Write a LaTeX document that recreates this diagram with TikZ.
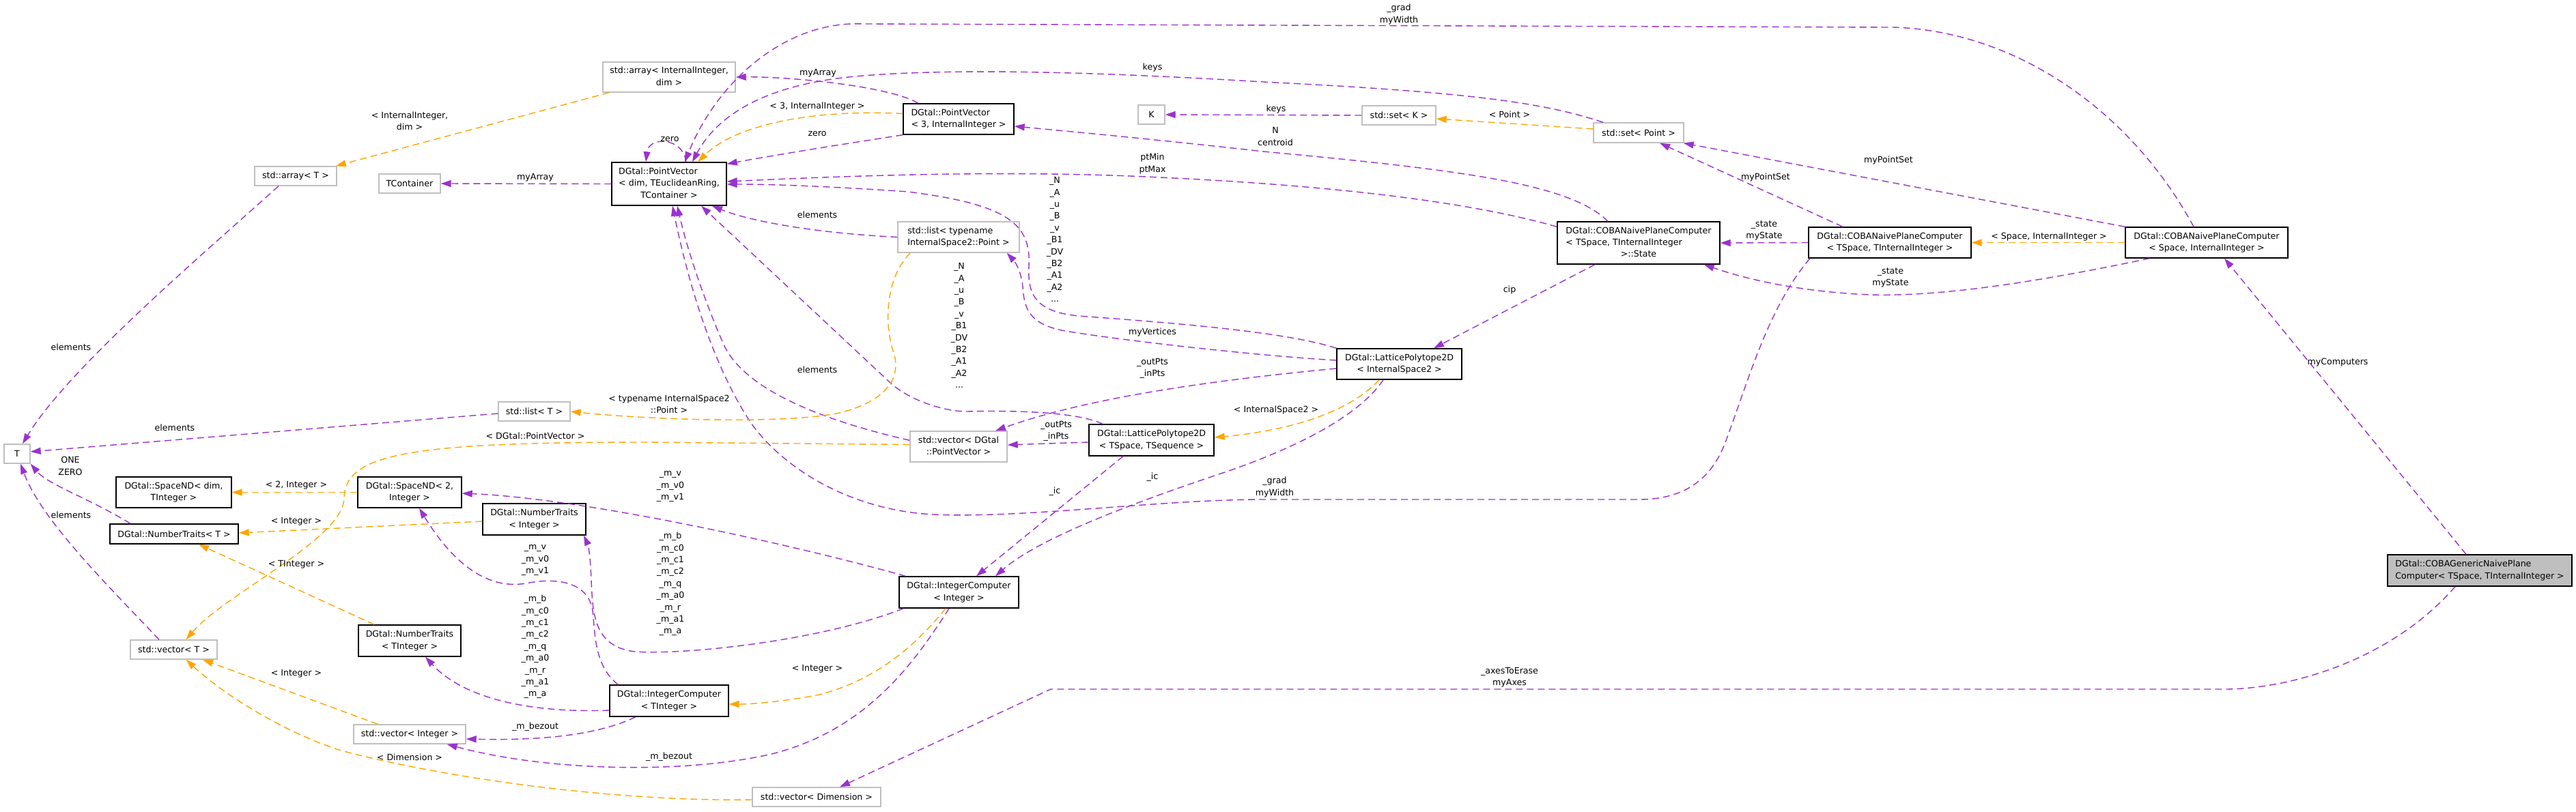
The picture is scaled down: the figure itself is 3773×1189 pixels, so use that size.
\documentclass[tikz,border=0pt]{standalone}
\usepackage{fontspec}
\setmainfont{DejaVu Sans}
\usetikzlibrary{arrows.meta}
\definecolor{edgepu}{HTML}{9A32CD}
\definecolor{edgeor}{HTML}{FFA500}
\definecolor{boxgray}{HTML}{BFBFBF}
\newcommand{\boxlc}[2]{\begin{tabular}{@{}l@{}}#1\\\multicolumn{1}{@{}c@{}}{#2}\end{tabular}}
\newcommand{\boxll}[1]{\begin{tabular}{@{}l@{}}#1\end{tabular}}
\tikzset{
  fnt/.style={font=\fontsize{12.6}{17.4}\selectfont},
  sz/.style 2 args={minimum width=#1pt, minimum height=#2pt},
  cls/.style={fnt, draw=black, line width=1.4pt, rectangle, inner sep=0pt, align=center},
  ext/.style={fnt, draw=boxgray, line width=1.4pt, rectangle, inner sep=0pt, align=center},
  rootbox/.style={cls, fill=boxgray},
  usage/.style={draw=edgepu, line width=1.4pt, dash pattern=on 10pt off 6pt, line join=round,
    -{Triangle[length=15pt,width=10pt,fill=edgepu]}},
  tmpl/.style={draw=edgeor, line width=1.4pt, dash pattern=on 10pt off 6pt, line join=round,
    -{Triangle[length=15pt,width=10pt,fill=edgeor]}},
  lbl/.style={fnt, inner sep=0pt, align=center},
}
\begin{document}
\begin{tikzpicture}[x=1pt,y=-1pt]
\fill[white] (0,0) rectangle (3773,1189);
\useasboundingbox (0,0) rectangle (3773,1189);

% ---------- nodes ----------
\node[ext, sz={194}{44}] (arrII) at (980,113) {\boxlc{std::array< InternalInteger,}{dim >}};
\node[ext, sz={120}{28}] (arrT) at (433,258) {std::array< T >};
\node[ext, sz={90}{28}] (tcont) at (600,269) {TContainer};
\node[cls, sz={168}{63}] (pv) at (980,269.5) {\boxlc{DGtal::PointVector\\< dim, TEuclideanRing,}{TContainer >}};
\node[cls, sz={162}{45}] (pv3) at (1404,174.5) {\boxll{DGtal::PointVector\\< 3, InternalInteger >}};
\node[ext, sz={39}{28}] (K) at (1686.5,168) {K};
\node[ext, sz={108}{28}] (setK) at (2049,169) {std::set< K >};
\node[ext, sz={132}{29}] (setP) at (2400,194.5) {std::set< Point >};
\node[cls, sz={238}{62}] (state) at (2400,356) {\boxlc{DGtal::COBANaivePlaneComputer\\< TSpace, TInternalInteger}{>::State}};
\node[cls, sz={238}{45}] (cobaT) at (2768,355.5) {\boxlc{DGtal::COBANaivePlaneComputer}{< TSpace, TInternalInteger >}};
\node[cls, sz={238}{45}] (cobaS) at (3232,355.5) {\boxlc{DGtal::COBANaivePlaneComputer}{< Space, InternalInteger >}};
\node[rootbox, sz={270}{46}] (generic) at (3632,836) {\boxll{DGtal::COBAGenericNaivePlane\\Computer< TSpace, TInternalInteger >}};
\node[ext, sz={178}{45}] (listTP) at (1404,347.5) {\boxlc{std::list< typename}{InternalSpace2::Point >}};
\node[cls, sz={183}{45}] (lpIS) at (2049.5,533.5) {\boxlc{DGtal::LatticePolytope2D}{< InternalSpace2 >}};
\node[cls, sz={183}{46}] (lpTS) at (1686.5,645) {\boxlc{DGtal::LatticePolytope2D}{< TSpace, TSequence >}};
\node[ext, sz={142}{45}] (vecPV) at (1404,654.5) {\boxlc{std::vector< DGtal}{::PointVector >}};
\node[ext, sz={105}{28}] (listT) at (782.5,603) {std::list< T >};
\node[ext, sz={38}{28}] (T) at (25,665) {T};
\node[cls, sz={169}{45}] (sndim) at (254.5,721.5) {\boxlc{DGtal::SpaceND< dim,}{TInteger >}};
\node[cls, sz={152}{45}] (sn2) at (600,721.5) {\boxlc{DGtal::SpaceND< 2,}{Integer >}};
\node[cls, sz={188}{29}] (ntT) at (255,782.5) {DGtal::NumberTraits< T >};
\node[cls, sz={151}{46}] (ntI) at (782.5,761) {\boxlc{DGtal::NumberTraits}{< Integer >}};
\node[ext, sz={127}{28}] (vecT) at (254.5,952) {std::vector< T >};
\node[cls, sz={150}{46}] (ntTI) at (600,939) {\boxlc{DGtal::NumberTraits}{< TInteger >}};
\node[ext, sz={164}{28}] (vecI) at (600,1076) {std::vector< Integer >};
\node[cls, sz={174}{46}] (icT) at (980,1027) {\boxlc{DGtal::IntegerComputer}{< TInteger >}};
\node[cls, sz={175}{46}] (icI) at (1404.5,868) {\boxlc{DGtal::IntegerComputer}{< Integer >}};
\node[ext, sz={188}{28}] (vecD) at (1196,1168) {std::vector< Dimension >};

% ---------- connectors ----------
\draw[tmpl] ([xshift=10pt]arrII.south west) -- ([xshift=-2pt]arrT.north east);
\draw[usage] ([xshift=-25pt]arrT.south) .. controls (300,370) and (100,540) .. ([xshift=8pt]T.north);
\draw[usage] (pv.west) -- (tcont.east);
\draw[usage] ([xshift=25pt]pv.north) .. controls (1000,200) and (950,200) .. ([xshift=-34pt]pv.north);
\draw[usage] ([xshift=-59pt]pv3.north) .. controls (1300,125) and (1150,112) .. (arrII.east);
\draw[tmpl] ([yshift=8pt]pv3.west) .. controls (1200,160) and (1080,180) .. ([xshift=42pt]pv.north);
\draw[usage] (pv3.south west) .. controls (1230,212) and (1130,228) .. ([yshift=-3pt]pv.north east);
\draw[usage] ([xshift=-19pt]cobaS.north) .. controls (3120,160) and (2950,45) .. (2773,40) -- (1264,35)
  .. controls (1150,30) and (1050,120) .. ([xshift=23pt]pv.north);
\draw[usage] ([xshift=-52pt]setP.north) .. controls (2260,150) and (2150,135) .. (1850,120)
  .. controls (1600,105) and (1400,100) .. (1264,111) .. controls (1120,122) and (1050,170) .. ([xshift=34pt]pv.north);
\draw[usage] ([yshift=-8pt]state.north west) .. controls (2150,295) and (1950,272) .. (1700,260)
  .. controls (1500,250) and (1300,255) .. ([yshift=3.5pt]pv.east);
\draw[usage] ([xshift=-45pt]state.north) .. controls (2300,270) and (2150,250) .. (1850,222)
  .. controls (1700,205) and (1560,192) .. ([yshift=-10.5pt]pv3.east);
\draw[usage] (lpIS.north west) .. controls (1880,485) and (1700,472) .. (1580,463)
  .. controls (1515,457) and (1505,430) .. (1507,390) .. controls (1510,330) and (1480,300) .. (1330,281)
  .. controls (1200,272) and (1120,270) .. ([yshift=-0.5pt]pv.east);
\draw[usage] ([yshift=5.5pt]lpIS.west) .. controls (1850,522) and (1650,500) .. (1560,485)
  .. controls (1505,475) and (1500,450) .. (1498,420) .. controls (1496,400) and (1488,385) .. ([xshift=-19pt]listTP.south east);
\draw[usage] ([yshift=-6.5pt]lpIS.west) .. controls (1800,555) and (1600,580) .. ([xshift=54pt]vecPV.north);
\draw[usage] ([xshift=-71.5pt]lpTS.north) .. controls (1580,605) and (1500,601) .. (1416,603)
  .. controls (1380,603) and (1330,585) .. (1304,561) -- ([xshift=47pt]pv.south);
\draw[usage] (listTP.west) .. controls (1200,342) and (1100,325) .. ([xshift=63pt]pv.south);
\draw[usage] ([yshift=-14pt]vecPV.north west) .. controls (1200,615) and (1090,570) .. (1060,505)
  .. controls (1040,460) and (1010,380) .. ([xshift=12pt]pv.south);
\draw[usage] ([xshift=-117pt]cobaT.south) .. controls (2590,450) and (2560,560) .. (2530,640)
  .. controls (2510,700) and (2470,732) .. (2400,732) -- (1850,732)
  .. controls (1700,732) and (1500,760) .. (1367,754) .. controls (1250,748) and (1150,690) .. (1100,620)
  .. controls (1040,530) and (1005,400) .. ([xshift=5pt]pv.south);
\draw[tmpl] ([xshift=-71pt]listTP.south) .. controls (1295,410) and (1295,480) .. (1310,520)
  .. controls (1320,560) and (1290,590) .. (1230,605) .. controls (1150,622) and (950,615) .. (listT.east);
\draw[tmpl] ([yshift=3pt]vecPV.west) -- (950,648) .. controls (600,648) and (505,665) .. (504,730)
  .. controls (503,790) and (330,870) .. ([xshift=18pt]vecT.north);
\draw[usage] ([yshift=-3pt]lpTS.west) -- ([yshift=2.5pt]vecPV.east);
\draw[usage] ([xshift=-41.5pt]lpTS.south) -- ([xshift=25.5pt]icI.north);
\draw[usage] ([xshift=-23.5pt]lpIS.south) .. controls (1990,610) and (1900,655) .. (1800,690)
  .. controls (1650,740) and (1520,790) .. ([xshift=53.5pt]icI.north);
\draw[tmpl] ([xshift=-29.5pt]lpIS.south) .. controls (1980,600) and (1900,630) .. ([yshift=4pt]lpTS.east);
\draw[usage] ([xshift=10pt]icI.north west) .. controls (1150,795) and (850,730) .. ([yshift=-1.5pt]sn2.east);
\draw[usage] ([xshift=7pt]icI.south west) .. controls (1200,940) and (1000,960) .. (930,955)
  .. controls (870,948) and (868,900) .. (866,850) .. controls (865,820) and (862,800) .. ([xshift=72.5pt]ntI.south);
\draw[usage] ([xshift=13pt]icT.north west) .. controls (870,975) and (872,930) .. (868,895)
  .. controls (862,855) and (820,845) .. (770,855) .. controls (710,865) and (660,820) .. ([xshift=14pt]sn2.south);
\draw[usage] ([yshift=-14pt]icT.west) .. controls (780,1045) and (680,1025) .. ([xshift=23pt]ntTI.south);
\draw[usage] ([xshift=-49pt]icT.south) .. controls (870,1080) and (780,1085) .. ([yshift=-7pt]vecI.east);
\draw[usage] ([xshift=-14.5pt]icI.south) .. controls (1340,970) and (1270,1070) .. (1130,1105)
  .. controls (1000,1135) and (800,1130) .. ([xshift=-28pt]vecI.south east);
\draw[tmpl] ([xshift=-19.5pt]icI.south) .. controls (1330,960) and (1270,1000) .. (1200,1018)
  .. controls (1150,1028) and (1100,1032) .. ([yshift=-5pt]icT.east);
\draw[tmpl] ([yshift=-4pt]vecD.west) .. controls (900,1175) and (650,1140) .. (500,1100)
  .. controls (420,1075) and (330,1020) .. ([xshift=18pt]vecT.south);
\draw[tmpl] ([xshift=36pt]vecI.north west) -- ([xshift=42.5pt]vecT.south);
\draw[usage] ([xshift=-21.5pt]vecT.north) .. controls (150,850) and (60,760) .. ([xshift=5pt]T.south);
\draw[usage] ([xshift=-64pt]ntT.north) .. controls (130,730) and (70,710) .. (T.south east);
\draw[usage] ([yshift=-3pt]listT.west) -- ([yshift=3pt]T.east);
\draw[tmpl] (sn2.west) -- (sndim.east);
\draw[tmpl] ([yshift=-3pt]ntI.west) -- ([yshift=1.5pt]ntT.east);
\draw[tmpl] ([xshift=24pt]ntTI.north west) -- ([xshift=36pt]ntT.south);
\draw[usage] (setK.west) -- (K.east);
\draw[tmpl] ([yshift=5.5pt]setP.west) -- ([yshift=-5pt]setK.east);
\draw[usage] ([xshift=-64pt]state.south) -- ([xshift=50.5pt]lpIS.north);
\draw[usage] (cobaT.west) -- (state.east);
\draw[usage] ([xshift=36pt]cobaS.south west) .. controls (3000,410) and (2850,435) .. (2740,432)
  .. controls (2640,428) and (2560,410) .. ([xshift=-24pt]state.south east);
\draw[usage] ([xshift=-69pt]cobaT.north) -- ([xshift=31pt]setP.south);
\draw[usage] (cobaS.north west) -- ([xshift=-1pt]setP.south east);
\draw[tmpl] (cobaS.west) -- (cobaT.east);
\draw[usage] ([xshift=-20pt]generic.north) -- ([xshift=26pt]cobaS.south);
\draw[usage] ([xshift=-36pt]generic.south) .. controls (3500,970) and (3350,1010) .. (3258,1010)
  -- (1539,1010) -- ([xshift=34pt]vecD.north);

% ---------- labels ----------
\node[lbl] (l1) at (600,177) {< InternalInteger,\\dim >};
\node[lbl] (l2) at (104,509) {elements};
\node[lbl] (l3) at (784,260) {myArray};
\node[lbl] (l4) at (981,204) {zero};
\node[lbl] (l5) at (1198,107) {myArray};
\node[lbl] (l6) at (1197,156) {< 3, InternalInteger >};
\node[lbl] (l7) at (1197,196) {zero};
\node[lbl] (l8) at (2049,21) {\_grad\\myWidth};
\node[lbl] (l9) at (1688,99) {keys};
\node[lbl] (l10) at (1688,240) {ptMin\\ptMax};
\node[lbl] (l11) at (1868,200) {N\\centroid};
\node[lbl] (l12) at (1545,351) {\_N\\\_A\\\_u\\\_B\\\_v\\\_B1\\\_DV\\\_B2\\\_A1\\\_A2\\...};
\node[lbl] (l13) at (1688,487) {myVertices};
\node[lbl] (l14) at (1688,540) {\_outPts\\\_inPts};
\node[lbl] (l15) at (1405,477) {\_N\\\_A\\\_u\\\_B\\\_v\\\_B1\\\_DV\\\_B2\\\_A1\\\_A2\\...};
\node[lbl] (l16) at (1197,315) {elements};
\node[lbl] (l17) at (1197,542) {elements};
\node[lbl] (l18) at (1867,714) {\_grad\\myWidth};
\node[lbl] (l19) at (980,592) {< typename InternalSpace2\\::Point >};
\node[lbl] (l20) at (784,639) {< DGtal::PointVector >};
\node[lbl] (l21) at (1547,632) {\_outPts\\\_inPts};
\node[lbl] (l22) at (1545,720) {\_ic};
\node[lbl] (l23) at (1688,699) {\_ic};
\node[lbl] (l24) at (1869,601) {< InternalSpace2 >};
\node[lbl] (l25) at (982,713) {\_m\_v\\\_m\_v0\\\_m\_v1};
\node[lbl] (l26) at (982,856) {\_m\_b\\\_m\_c0\\\_m\_c1\\\_m\_c2\\\_m\_q\\\_m\_a0\\\_m\_r\\\_m\_a1\\\_m\_a};
\node[lbl] (l27) at (784,821) {\_m\_v\\\_m\_v0\\\_m\_v1};
\node[lbl] (l28) at (784,948) {\_m\_b\\\_m\_c0\\\_m\_c1\\\_m\_c2\\\_m\_q\\\_m\_a0\\\_m\_r\\\_m\_a1\\\_m\_a};
\node[lbl] (l29) at (784,1065) {\_m\_bezout};
\node[lbl] (l30) at (980,1109) {\_m\_bezout};
\node[lbl] (l31) at (1197,980) {< Integer >};
\node[lbl] (l32) at (600,1110) {< Dimension >};
\node[lbl] (l33) at (434,987) {< Integer >};
\node[lbl] (l34) at (104,755) {elements};
\node[lbl] (l35) at (103,683) {ONE\\ZERO};
\node[lbl] (l36) at (256,627) {elements};
\node[lbl] (l37) at (434,711) {< 2, Integer >};
\node[lbl] (l38) at (434,764) {< Integer >};
\node[lbl] (l39) at (434,827) {< TInteger >};
\node[lbl] (l40) at (1869,160) {keys};
\node[lbl] (l41) at (2211,168) {< Point >};
\node[lbl] (l42) at (2211,425) {cip};
\node[lbl] (l43) at (2584,338) {\_state\\myState};
\node[lbl] (l44) at (2769,407) {\_state\\myState};
\node[lbl] (l45) at (2586,260) {myPointSet};
\node[lbl] (l46) at (2766,235) {myPointSet};
\node[lbl] (l47) at (3001,347) {< Space, InternalInteger >};
\node[lbl] (l48) at (3424,531) {myComputers};
\node[lbl] (l49) at (2211,993) {\_axesToErase\\myAxes};
\end{tikzpicture}
\end{document}
